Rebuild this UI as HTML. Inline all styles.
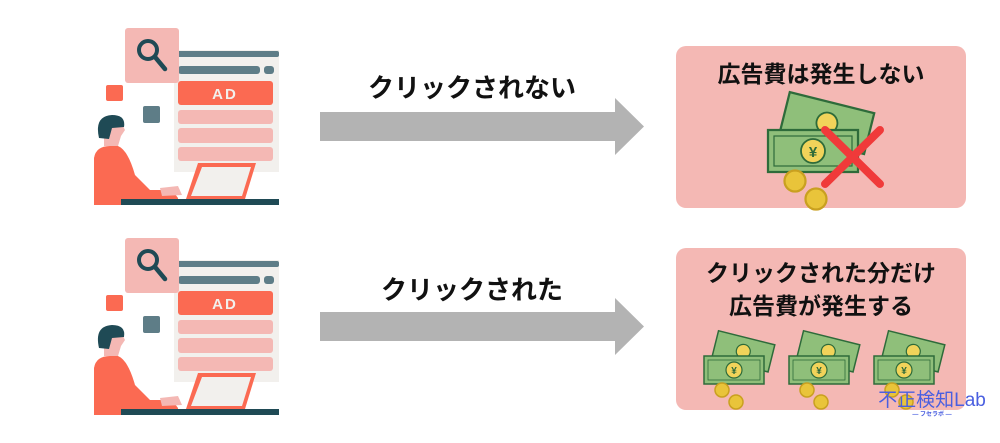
<!DOCTYPE html>
<html><head><meta charset="utf-8"><style>
body{margin:0;background:#fff;}
svg{display:block;}
text{font-family:"Liberation Sans","Noto Sans CJK JP",sans-serif;font-weight:bold;fill:#111;}
</style></head><body>
<svg width="1000" height="443" viewBox="0 0 1000 443" xmlns="http://www.w3.org/2000/svg">
<defs>
<g id="fig">
  <rect x="174" y="50" width="105" height="122" fill="#f2f0ed"/>
  <rect x="174" y="51" width="105" height="6" rx="2" fill="#5e7d87"/>
  <rect x="178" y="66" width="82" height="8" rx="3" fill="#5e7d87"/>
  <rect x="264" y="66" width="10" height="8" rx="3" fill="#5e7d87"/>
  <rect x="125" y="28" width="54" height="55" rx="3" fill="#f4b8b4"/>
  <circle cx="148" cy="50" r="9" fill="none" stroke="#1f4a55" stroke-width="4"/>
  <line x1="155" y1="57" x2="165" y2="69" stroke="#1f4a55" stroke-width="4.5" stroke-linecap="round"/>
  <rect x="178" y="81" width="95" height="24" rx="3" fill="#fb6a52"/>
  <text x="225" y="99" font-size="15" text-anchor="middle" style="fill:#f2f0ed" letter-spacing="2">AD</text>
  <rect x="178" y="110" width="95" height="14" rx="3" fill="#f4b8b4"/>
  <rect x="178" y="128" width="95" height="15" rx="3" fill="#f4b8b4"/>
  <rect x="178" y="147" width="95" height="14" rx="3" fill="#f4b8b4"/>
  <rect x="106" y="85" width="17" height="16" rx="2" fill="#fb6a52"/>
  <rect x="143" y="106" width="17" height="17" rx="2" fill="#5e7d87"/>
  <polygon points="198,163 256,163 245,199 186,199" fill="#fb6a52"/>
  <polygon points="202,167 251,167 242,196 191,196" fill="#f2f0ed"/>
  <path d="M94 205 L94 158 Q96 146 110 146 L118 146 Q128 150 135 175 L150 190 L172 190 L178 198 L178 205 Z" fill="#fb6a52"/>
  <path d="M160 188 L178 186 L182 195 L162 196 Z" fill="#f4b8b4"/>
  <path d="M104 146 L118 146 L121 136 L125 130 L121 122 L104 126 Z" fill="#f4b8b4"/>
  <path d="M99 138 Q94 116 112 115 Q126 115 124 127 L112 128 L109 139 Z" fill="#1f4a55"/>
  <rect x="121" y="199" width="158" height="6" fill="#1f4a55"/>
</g>
<g id="bill">
  <g transform="rotate(14 0 0)">
    <rect x="8" y="-28" width="58" height="28" fill="#8fbf7a" stroke="#2e6b3a" stroke-width="1.5"/>
    <circle cx="37" cy="-14" r="7" fill="#f1d35a" stroke="#2e6b3a" stroke-width="1.2"/>
  </g>
  <rect x="0" y="0" width="60" height="28" fill="#8fbf7a" stroke="#2e6b3a" stroke-width="1.5"/>
  <rect x="4" y="4" width="52" height="20" fill="none" stroke="#2e6b3a" stroke-width="0.8"/>
  <circle cx="30" cy="14" r="8" fill="#f1d35a" stroke="#2e6b3a" stroke-width="1.2"/>
  <text x="30" y="18" font-size="10" text-anchor="middle" style="fill:#2e6b3a">¥</text>
  <circle cx="18" cy="34" r="7" fill="#e9c43a" stroke="#c9a020" stroke-width="1.5"/>
  <circle cx="32" cy="46" r="7" fill="#e9c43a" stroke="#c9a020" stroke-width="1.5"/>
</g>
<g id="arrow">
  <polygon points="320,112 615,112 615,98 644,126.5 615,155 615,141 320,141" fill="#b3b3b3"/>
</g>
</defs>

<use href="#fig"/>
<use href="#fig" transform="translate(0,210)"/>

<use href="#arrow"/>
<use href="#arrow" transform="translate(0,200)"/>
<text x="472" y="97" font-size="26" text-anchor="middle">クリックされない</text>
<text x="472" y="299" font-size="26" text-anchor="middle">クリックされた</text>

<rect x="676" y="46" width="290" height="162" rx="10" fill="#f4b8b4"/>
<text x="821" y="82" font-size="23" text-anchor="middle">広告費は発生しない</text>
<g transform="translate(768,130) scale(1.5)"><use href="#bill"/></g>
<line x1="825" y1="130" x2="880" y2="184" stroke="#f03a3a" stroke-width="8" stroke-linecap="round"/>
<line x1="880" y1="130" x2="825" y2="184" stroke="#f03a3a" stroke-width="8" stroke-linecap="round"/>

<rect x="676" y="248" width="290" height="162" rx="10" fill="#f4b8b4"/>
<text x="821" y="281" font-size="23" text-anchor="middle">クリックされた分だけ</text>
<text x="821" y="314" font-size="23" text-anchor="middle">広告費が発生する</text>
<g transform="translate(704,356)"><use href="#bill"/></g>
<g transform="translate(789,356)"><use href="#bill"/></g>
<g transform="translate(874,356)"><use href="#bill"/></g>

<text x="932" y="406" font-size="19" text-anchor="middle" style="fill:#4a5fe0;font-weight:normal">不正検知Lab</text>
<text x="932" y="416" font-size="6" text-anchor="middle" style="fill:#4a5fe0">— フセラボ —</text>
</svg>
</body></html>
